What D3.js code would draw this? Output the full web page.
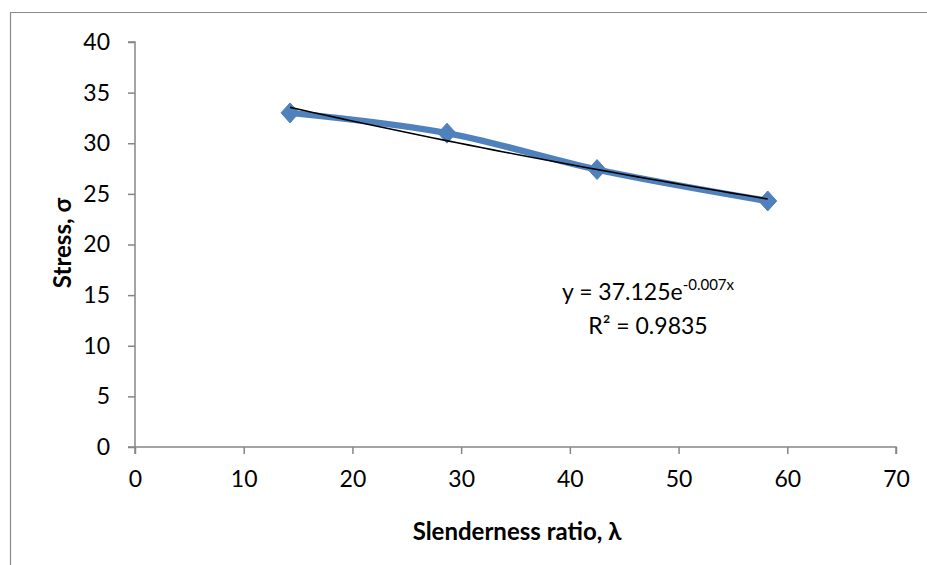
<!DOCTYPE html>
<html><head><meta charset="utf-8">
<script src="https://cdn.jsdelivr.net/npm/d3@7"></script>
<style>
body{margin:0;background:#fff;}
text{font-family:Lato,"Open Sans",sans-serif;fill:#000;}
</style></head>
<body><svg id="c" width="927" height="565"></svg>
<script>
const slenderness = [14.26, 28.7, 42.5, 58.2];
const stress = [33.0, 31.0, 27.4, 24.3];
const xTicks = [0,10,20,30,40,50,60,70];
const yTicks = [0,5,10,15,20,25,30,35,40];
const eqLabel = "y = 37.125e";
const eqExp = "-0.007x";
const r2Label = "R² = 0.9835";
const xTitle = "Slenderness ratio, λ";
const yTitle = "Stress, σ";

const svg = d3.select("#c");
const x = d3.scaleLinear().domain([0,70]).range([135,896]);
const y = d3.scaleLinear().domain([0,40]).range([447,42]);

// frame
svg.append("path").attr("d","M10.5,565 V12.5 H927").attr("fill","none").attr("stroke","#898989").attr("stroke-width",1.2);

const gx = svg.append("g").attr("transform","translate(0,447)")
  .call(d3.axisBottom(x).tickValues(xTicks).tickSize(7).tickPadding(17).tickFormat(d3.format("d")));
const gy = svg.append("g").attr("transform","translate(135,0)")
  .call(d3.axisLeft(y).tickValues(yTicks).tickSize(7).tickPadding(18).tickFormat(d3.format("d")));
[gx,gy].forEach(g=>{
  g.selectAll("path,line").attr("stroke","#868686").attr("stroke-width",1.5);
  g.selectAll("text").attr("font-size",23).attr("font-family","Lato,'Open Sans',sans-serif").attr("fill","#000");
});
gx.select(".domain").attr("d","M135,7V0H896V7");
gy.select(".domain").attr("d","M-7,447H0V42H-7");

const pts = slenderness.map((v,i)=>[v,stress[i]]);
const line = d3.line().x(d=>x(d[0])).y(d=>y(d[1])).curve(d3.curveCatmullRom.alpha(0.5));
svg.append("path").datum(pts).attr("d",line).attr("fill","none")
  .attr("stroke","#4F81BD").attr("stroke-width",6.5).attr("stroke-linejoin","round");

// exponential trendline fitted to data
const n = pts.length;
const mx = d3.mean(pts,d=>d[0]);
const ml = d3.mean(pts,d=>Math.log(d[1]));
const b = d3.sum(pts,d=>(d[0]-mx)*(Math.log(d[1])-ml))/d3.sum(pts,d=>(d[0]-mx)**2);
const a = Math.exp(ml-b*mx);

svg.selectAll(".m").data(pts).join("path").attr("class","m")
  .attr("d","M0,-10L9,0L0,10L-9,0Z")
  .attr("transform",d=>`translate(${x(d[0])},${y(d[1])})`)
  .attr("fill","#4F81BD").attr("stroke","#4F81BD").attr("stroke-width",1);

const trend = d3.range(0,41).map(i=>{const xv=slenderness[0]+(slenderness[n-1]-slenderness[0])*i/40;return [xv,a*Math.exp(b*xv)];});
svg.append("path").datum(trend).attr("d",d3.line().x(d=>x(d[0])).y(d=>y(d[1])))
  .attr("fill","none").attr("stroke","#000").attr("stroke-width",1.6);

// equation
const t1 = svg.append("text").attr("x",648).attr("y",300).attr("text-anchor","middle").attr("font-size",23);
t1.append("tspan").text(eqLabel);
t1.append("tspan").attr("dy",-10).attr("font-size",15).text(eqExp);
svg.append("text").attr("x",648).attr("y",334).attr("text-anchor","middle").attr("font-size",23).text(r2Label);

svg.append("text").attr("x",517).attr("y",540).attr("text-anchor","middle").attr("font-size",24).attr("font-weight","bold").text(xTitle);
svg.append("text").attr("transform","translate(71,243) rotate(-90)").attr("text-anchor","middle").attr("font-size",24).attr("font-weight","bold").text(yTitle);
</script></body></html>
